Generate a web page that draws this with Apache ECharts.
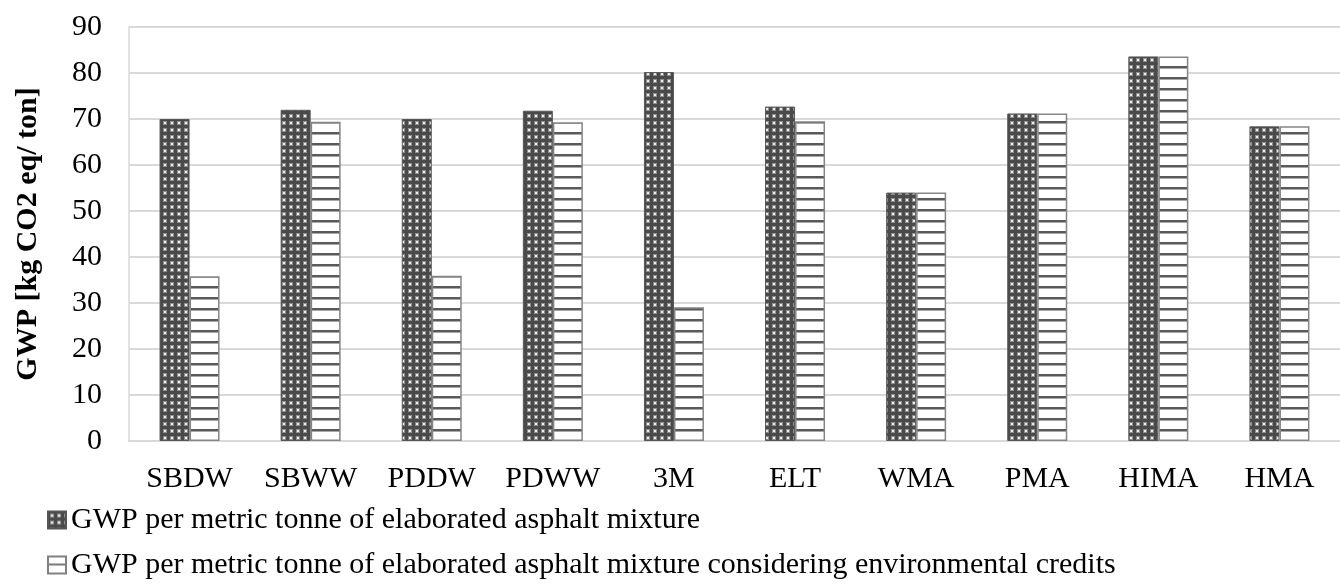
<!DOCTYPE html>
<html>
<head>
<meta charset="utf-8">
<script src="https://cdn.jsdelivr.net/npm/echarts@6/dist/echarts.min.js"></script>
<style>html,body{margin:0;padding:0;background:#fff}#c{width:1340px;height:585px}</style>
</head>
<body>
<div id="c"></div>
<script>
var categories = ['SBDW','SBWW','PDDW','PDWW','3M','ELT','WMA','PMA','HIMA','HMA'];
var gwpMixture = [70, 72.0, 70, 71.8, 80.2, 72.7, 54, 71.2, 83.6, 68.4];
var gwpCredits = [35.8, 69.4, 35.9, 69.3, 29.1, 69.5, 54, 71.2, 83.6, 68.4];
var seriesNames = ['GWP per metric tonne of elaborated asphalt mixture',
                   'GWP per metric tonne of elaborated asphalt mixture considering environmental credits'];
var yTicks = {min: 0, max: 90, interval: 10};

function dotPattern(){
  var c = document.createElement('canvas'); c.width = 7; c.height = 7;
  var g = c.getContext('2d');
  g.fillStyle = '#4a4a4a'; g.fillRect(0,0,7,7);
  g.fillStyle = '#8f8f8f'; g.fillRect(2,2,4,4);
  g.fillStyle = '#ececec'; g.fillRect(3,3,2,2);
  return c;
}
function stripePattern(){
  var c = document.createElement('canvas'); c.width = 8; c.height = 11;
  var g = c.getContext('2d');
  g.fillStyle = '#ffffff'; g.fillRect(0,0,8,11);
  g.fillStyle = '#5a5a5a'; g.fillRect(0,0,8,2);
  g.fillStyle = '#a8a8a8'; g.fillRect(0,2,8,1);
  return c;
}
function legendStripe(){
  var c = document.createElement('canvas'); c.width = 18; c.height = 18;
  var g = c.getContext('2d');
  g.fillStyle = '#ffffff'; g.fillRect(0,0,18,18);
  g.fillStyle = '#7a7a7a'; g.fillRect(0,7,18,2);
  return c;
}

var chart = echarts.init(document.getElementById('c'));
var font = 'Liberation Serif';
chart.setOption({
  animation: false,
  textStyle: {fontFamily: font},
  grid: {left: 129, right: -7, top: 27, bottom: 144},
  legend: {
    orient: 'vertical', left: 42, top: 500, itemGap: 15,
    itemWidth: 18, itemHeight: 17, icon: 'rect',
    textStyle: {fontFamily: font, fontSize: 30, color: '#000'},
    data: [
      {name: seriesNames[0]},
      {name: seriesNames[1], itemStyle: {color: {image: legendStripe(), repeat: 'repeat'}, borderColor: '#808080', borderWidth: 2}}
    ]
  },
  xAxis: {
    type: 'category', data: categories,
    axisLine: {lineStyle: {color: '#d9d9d9', width: 2}},
    axisTick: {show: false},
    axisLabel: {fontFamily: font, fontSize: 30, color: '#000', margin: 23, interval: 0}
  },
  yAxis: {
    type: 'value', min: yTicks.min, max: yTicks.max, interval: yTicks.interval,
    name: 'GWP [kg CO2 eq/ ton]', nameLocation: 'middle', nameGap: 86,
    nameTextStyle: {fontFamily: font, fontSize: 30, fontWeight: 'bold', color: '#000'},
    axisLine: {show: true, lineStyle: {color: '#d9d9d9', width: 1.5}},
    axisTick: {show: false},
    axisLabel: {fontFamily: font, fontSize: 30, color: '#000', margin: 27},
    splitLine: {lineStyle: {color: '#d9d9d9', width: 2}}
  },
  series: [
    {name: seriesNames[0], type: 'bar', data: gwpMixture, barWidth: 30, barGap: '0%',
     itemStyle: {color: {image: dotPattern(), repeat: 'repeat'}, borderColor: '#555', borderWidth: 1}},
    {name: seriesNames[1], type: 'bar', data: gwpCredits, barWidth: 30,
     itemStyle: {color: {image: stripePattern(), repeat: 'repeat'}, borderColor: '#858585', borderWidth: 1.5}}
  ]
});
</script>
</body>
</html>
